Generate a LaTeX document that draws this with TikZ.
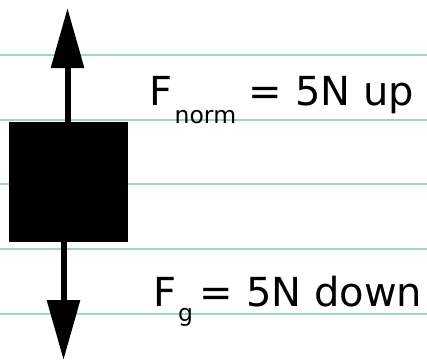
\documentclass[tikz,border=0pt]{standalone}
\usepackage{fontspec}
\setmainfont{DejaVu Sans}
\usetikzlibrary{arrows.meta}
\definecolor{ruleGreen}{RGB}{160,214,192}
\begin{document}
\begin{tikzpicture}[x=1pt, y=-1pt]
% Free body diagram on ruled paper
\providecommand{\fbdRuleWidth}{2.8pt}
\providecommand{\fbdShaftWidth}{6pt}
\tikzset{
  forcearrow/.style={draw=black, line width=\fbdShaftWidth,
    -{Triangle[length=60pt, width=32pt]}},
  forcelabel/.style={anchor=base west, inner sep=0pt,
    font=\fontsize{40}{40}\selectfont}
}
\useasboundingbox (0,0) rectangle (427,362);
\fill[white] (0,0) rectangle (427,362);
% Ruled lines
\begin{scope}[draw=ruleGreen, line width=\fbdRuleWidth]
  \draw (0,55) -- (427,55);
  \draw (0,120) -- (427,120);
  \draw (0,184) -- (427,184);
  \draw (0,249) -- (427,249);
  \draw (0,314) -- (427,314);
\end{scope}
% Mass and forces
\node[fill=black, inner sep=0pt, minimum width=119pt, minimum height=120pt] (mass) at (68.5,182) {};
\coordinate (uptip) at (67.5,8);
\coordinate (downtip) at (63.5,360);
\draw[forcearrow] ([xshift=-1pt]mass.north) -- (uptip);
\draw[forcearrow] ([xshift=-5pt]mass.south) -- (downtip);
% Labels
\node[forcelabel] (fnorm) at (149.5,105) {F\hspace{2pt}\raisebox{-18pt}{\fontsize{23.5}{23.5}\selectfont norm} = 5N up};
\node[forcelabel] (fgrav) at (153,306) {F\hspace{2pt}\raisebox{-15pt}{\fontsize{23.5}{23.5}\selectfont g}\hspace{-6pt} = 5N down};
\end{tikzpicture}
\end{document}
